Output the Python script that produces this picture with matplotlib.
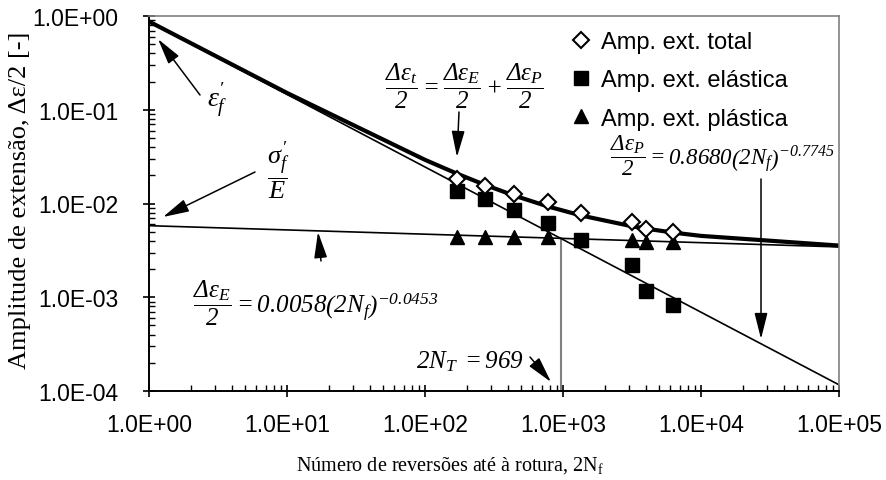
import matplotlib
matplotlib.use("Agg")
import matplotlib.pyplot as plt
import numpy as np
from matplotlib.ticker import FuncFormatter, LogLocator, NullFormatter

plt.rcParams["font.family"] = ["Liberation Sans", "DejaVu Sans"]
plt.rcParams["mathtext.fontset"] = "custom"
# equations on the chart are set in Times italic, digits included
plt.rcParams["mathtext.rm"] = "Liberation Serif:italic"
plt.rcParams["mathtext.it"] = "Liberation Serif:italic"
plt.rcParams["mathtext.sf"] = "Liberation Serif"
plt.rcParams["mathtext.bf"] = "Liberation Serif:bold"

# data (reversals 2Nf and strain amplitudes)
reversals = [170, 273, 445, 782, 1350, 3160, 4020, 6310]
amp_total = [0.0183, 0.0155, 0.0126, 0.0103, 0.0080, 0.0063, 0.0053, 0.0050]
amp_elastic = [0.0135, 0.0112, 0.0086, 0.0062, 0.0041, 0.0022, 0.00118, 0.00083]
amp_plastic = [0.0044, 0.0044, 0.0044, 0.0044, 0.0041, 0.0041, 0.0039, 0.0039]

# fitted Basquin / Coffin-Manson coefficients shown on the chart
sig_coef, b_exp = 0.0058, -0.0453
eps_coef, c_exp = 0.8680, -0.7745
transition = 969

line_n = [1, 1e5]
total_n = [1, 10, 100] + reversals + [1e4, 1e5]

W, H = 887, 481
fig = plt.figure(figsize=(W / 100, H / 100), dpi=100)
ax = fig.add_axes([149 / W, 1 - 392 / H, 690 / W, 375 / H])


def fpx(x, y):
    # figure pixel (from top-left) -> figure fraction
    return (x / W, 1 - y / H)


n_line = np.array(line_n, dtype=float)
n_tot = np.array(total_n, dtype=float)
elastic_fit = sig_coef * n_line ** b_exp
plastic_fit = eps_coef * n_line ** c_exp
total_fit = sig_coef * n_tot ** b_exp + eps_coef * n_tot ** c_exp

ax.plot(n_line, elastic_fit, color="black", lw=1.2, zorder=2)
ax.plot(n_line, plastic_fit, color="black", lw=1.2, zorder=2)
ax.plot(n_tot, total_fit, color="black", lw=3.0, zorder=2)

y_cross = sig_coef * transition ** b_exp
ax.plot([transition, transition], [1e-4, y_cross], color="#808080", lw=1.5, zorder=1)

ax.plot(reversals, amp_plastic, ls="none", marker="^", ms=10, color="black",
        label="Amp. ext. plástica", zorder=3)
ax.plot(reversals, amp_elastic, ls="none", marker="s", ms=9.5, color="black",
        label="Amp. ext. elástica", zorder=4)
ax.plot(reversals, amp_total, ls="none", marker="D", ms=8.5, mfc="white",
        mec="black", mew=1.5, label="Amp. ext. total", zorder=5)

ax.set_xscale("log")
ax.set_yscale("log")
ax.set_xlim(1, 1e5)
ax.set_ylim(1e-4, 1)

fmt = FuncFormatter(lambda v, _: f"{v:.1E}")
ax.xaxis.set_major_formatter(fmt)
ax.yaxis.set_major_formatter(fmt)
ax.xaxis.set_minor_formatter(NullFormatter())
ax.yaxis.set_minor_formatter(NullFormatter())
ax.xaxis.set_minor_locator(LogLocator(base=10, subs=np.arange(2, 10), numticks=20))
ax.yaxis.set_minor_locator(LogLocator(base=10, subs=np.arange(2, 10), numticks=20))
ax.tick_params(which="major", direction="inout", length=8, width=1.2, labelsize=16.5)
ax.tick_params(axis="x", which="major", pad=12)
ax.tick_params(axis="y", which="major", pad=18)
ax.tick_params(which="minor", direction="in", length=4.5, width=1.0)
ax.tick_params(top=False, right=False, which="both")

for side in ("left", "bottom"):
    ax.spines[side].set_linewidth(1.4)
for side in ("top", "right"):
    ax.spines[side].set_color("#808080")
    ax.spines[side].set_linewidth(1.2)

# legend
handles, labels = ax.get_legend_handles_labels()
order = [2, 1, 0]
ax.legend([handles[i] for i in order], [labels[i] for i in order],
          loc="upper left", bbox_to_anchor=fpx(572, 32), bbox_transform=fig.transFigure,
          frameon=False, numpoints=1, fontsize=17, borderpad=0, borderaxespad=0,
          handlelength=0.8, handletextpad=0.42, labelspacing=0.69)

# axis titles
fig.text(*fpx(450, 466), r"Número de reversões até à rotura, 2N$_{\mathsf{f}}$",
         family="Liberation Serif", fontsize=14.5, ha="center", va="center")
fig.text(*fpx(20, 200), "Amplitude de extensão, Δε/2 [-]", family="Liberation Serif",
         fontsize=19, rotation=90, ha="center", va="center")

arrow = dict(arrowstyle="-|>,head_length=1.6,head_width=0.4", color="black", lw=1.1,
             shrinkA=0, shrinkB=0, mutation_scale=10)
ms = 18

# equations and arrows
fig.text(*fpx(464, 86),
         r"$\dfrac{\Delta\varepsilon_t}{2}=\dfrac{\Delta\varepsilon_E}{2}+\dfrac{\Delta\varepsilon_P}{2}$",
         fontsize=ms, ha="center", va="center")
ax.annotate("", xy=fpx(457, 158), xycoords="figure fraction",
            xytext=fpx(459, 113), textcoords="figure fraction", arrowprops=arrow)

fig.text(*fpx(217, 100), r"$\varepsilon^{\prime}_f$", fontsize=20, ha="center", va="center")
ax.annotate("", xy=fpx(158, 40), xycoords="figure fraction",
            xytext=fpx(200, 96), textcoords="figure fraction", arrowprops=arrow)

fig.text(*fpx(278, 171), r"$\dfrac{\sigma^{\prime}_f}{E}$", fontsize=19,
         ha="center", va="center")
ax.annotate("", xy=fpx(163, 218), xycoords="figure fraction",
            xytext=fpx(255, 173), textcoords="figure fraction", arrowprops=arrow)

fig.text(*fpx(316, 303),
         r"$\dfrac{\Delta\varepsilon_E}{2}=0.0058\left(2N_f\right)^{-0.0453}$",
         fontsize=ms, ha="center", va="center")
ax.annotate("", xy=fpx(318, 233), xycoords="figure fraction",
            xytext=fpx(321, 262), textcoords="figure fraction", arrowprops=arrow)

fig.text(*fpx(722, 156),
         r"$\dfrac{\Delta\varepsilon_P}{2}=0.8680\left(2N_f\right)^{-0.7745}$",
         fontsize=16.5, ha="center", va="center")
ax.annotate("", xy=fpx(761, 340), xycoords="figure fraction",
            xytext=fpx(761, 180), textcoords="figure fraction", arrowprops=arrow)

fig.text(*fpx(470, 362), r"$2N_T\;=969$", fontsize=ms,
         ha="center", va="center")
ax.annotate("", xy=fpx(551, 383), xycoords="figure fraction",
            xytext=fpx(530, 358), textcoords="figure fraction", arrowprops=arrow)

fig.savefig("out.png", dpi=100)
